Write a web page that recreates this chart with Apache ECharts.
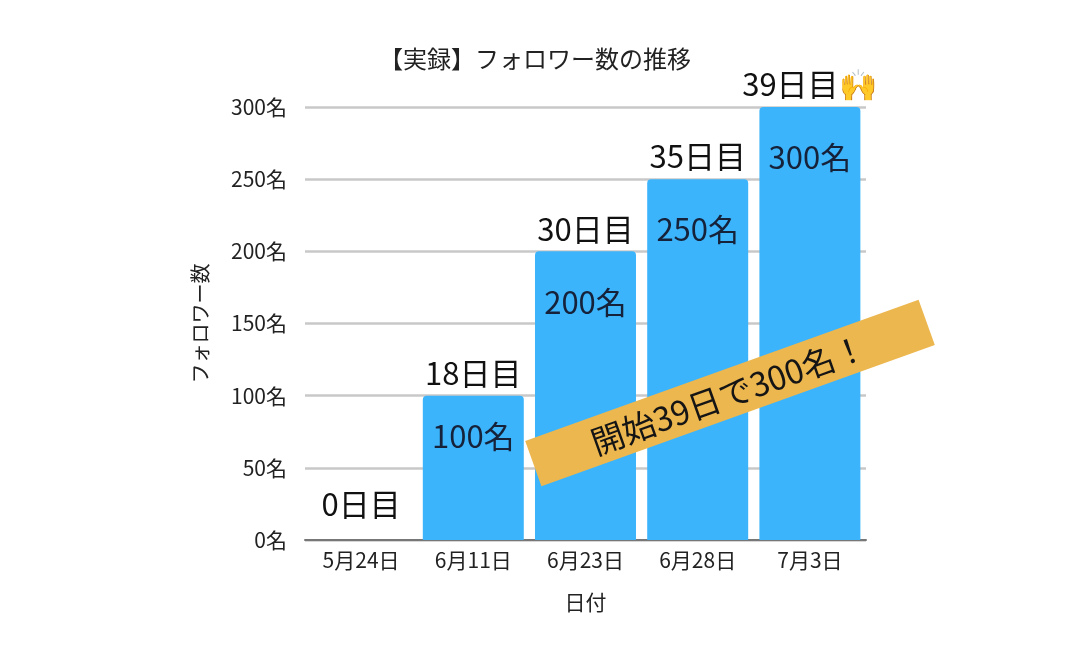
<!DOCTYPE html>
<html>
<head>
<meta charset="utf-8">
<script src="https://cdn.jsdelivr.net/npm/echarts@6/dist/echarts.min.js"></script>
<style>
html, body { margin: 0; padding: 0; background: #fff; }
#main { width: 1075px; height: 650px; }
</style>
</head>
<body>
<div id="main"></div>
<script>
// データ
var dates = ['5月24日', '6月11日', '6月23日', '6月28日', '7月3日'];
var followers = [0, 100, 200, 250, 300];
var dayLabels = ['0日目', '18日目', '30日目', '35日目', '39日目🙌'];
var yTicks = [0, 50, 100, 150, 200, 250, 300];

var font = '"Noto Sans CJK JP", "Noto Sans", sans-serif';
var myChart = echarts.init(document.getElementById('main'));

// 棒の中のラベル（100名だけ少し上）
var barData = followers.map(function (v, i) {
    return i == 1 ? { value: v, label: { distance: 25 } } : v;
});
// 上のラベル（0日目は少し浮かせる）
var topData = followers.map(function (v) {
    return v > 0 ? v : { value: v, label: { distance: 20 } };
});

option = {
    textStyle: { fontFamily: font },
    title: {
        text: '【実録】フォロワー数の推移',
        left: 530,
        top: 42,
        textAlign: 'center',
        textStyle: { fontFamily: font, fontSize: 24, fontWeight: 'normal', color: '#222' }
    },
    grid: { left: 305, right: 209, top: 107, bottom: 110 },
    xAxis: {
        type: 'category',
        data: dates,
        name: '日付',
        nameLocation: 'middle',
        nameGap: 52,
        nameTextStyle: { fontFamily: font, fontSize: 21, color: '#222' },
        axisLine: { lineStyle: { color: '#777', width: 2 } },
        axisTick: { show: false },
        axisLabel: { fontFamily: font, fontSize: 21, color: '#222', margin: 10 }
    },
    yAxis: {
        type: 'value',
        min: yTicks[0],
        max: yTicks[yTicks.length - 1],
        interval: 50,
        name: 'フォロワー数',
        nameLocation: 'middle',
        nameGap: 95,
        nameTextStyle: { fontFamily: font, fontSize: 20, color: '#222' },
        axisLine: { show: false },
        axisTick: { show: false },
        axisLabel: {
            fontFamily: font, fontSize: 21, color: '#222', margin: 18,
            formatter: function (v) { return v + '名'; }
        },
        splitLine: { lineStyle: { color: '#c8c8c8', width: 2.5 } }
    },
    series: [
        {
            type: 'bar',
            data: barData,
            barCategoryGap: '10%',
            itemStyle: { color: '#3cb4fb', borderRadius: [4, 4, 0, 0] },
            label: {
                show: true,
                position: 'insideTop',
                distance: 35,
                fontFamily: font,
                fontSize: 31,
                color: '#15223a',
                formatter: function (p) { return p.value > 0 ? p.value + '名' : ''; }
            },
            z: 2
        },
        {
            type: 'bar',
            data: topData,
            barGap: '-100%',
            barCategoryGap: '10%',
            itemStyle: { color: 'transparent' },
            label: {
                show: true,
                position: 'top',
                distance: 7,
                fontFamily: font,
                fontSize: 31,
                color: '#111',
                formatter: function (p) { return dayLabels[p.dataIndex]; }
            },
            silent: true,
            z: 3
        }
    ],
    graphic: {
        elements: [
            {
                type: 'group',
                x: 730,
                y: 393,
                rotation: 0.345,
                z: 100,
                children: [
                    {
                        type: 'rect',
                        z: 100,
                        shape: { x: -209, y: -24, width: 418, height: 48 },
                        style: { fill: '#edb74f' }
                    },
                    {
                        type: 'text',
                        z: 101,
                        style: {
                            text: '開始39日で300名！',
                            x: -2, y: 1,
                            align: 'center',
                            verticalAlign: 'middle',
                            font: '33px "Noto Sans CJK JP", sans-serif',
                            fill: '#151515'
                        }
                    }
                ]
            }
        ]
    }
};

myChart.setOption(option);
</script>
</body>
</html>
